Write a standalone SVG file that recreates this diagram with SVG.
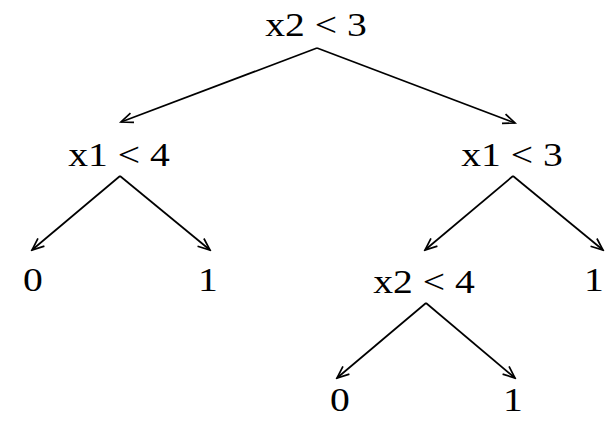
<svg xmlns="http://www.w3.org/2000/svg" width="605" height="424" viewBox="0 0 605 424">
<style>
text { font-family: "Liberation Serif", "Times New Roman", serif; font-size: 33px; fill: #000; text-anchor: middle; }
.edge { stroke: #000; stroke-width: 1.7; fill: none; marker-end: url(#ah); }
</style>
<defs>
<marker id="ah" viewBox="-13 -7 15 14" refX="0" refY="0" markerWidth="15" markerHeight="14" markerUnits="userSpaceOnUse" orient="auto">
<path d="M-12,-5 L0,0 L-12,5" fill="none" stroke="#000" stroke-width="1.7"/>
</marker>
</defs>
<rect width="605" height="424" fill="#fff"/>
<g id="connectors">
<line class="edge" x1="317" y1="48" x2="121" y2="122"/>
<line class="edge" x1="317" y1="48" x2="515" y2="123"/>
<line class="edge" x1="120" y1="176" x2="32" y2="250"/>
<line class="edge" x1="120" y1="176" x2="210" y2="250"/>
<line class="edge" x1="513" y1="176" x2="425" y2="250"/>
<line class="edge" x1="513" y1="176" x2="603" y2="250"/>
<line class="edge" x1="426" y1="303" x2="337" y2="378"/>
<line class="edge" x1="426" y1="303" x2="515" y2="378"/>
</g>
<g id="root"><text transform="translate(316,36) scale(1.2,1)">x2 &lt; 3</text></g>
<g id="n_x1lt4"><text transform="translate(119,166) scale(1.2,1)">x1 &lt; 4</text></g>
<g id="n_x1lt3"><text transform="translate(512,166) scale(1.2,1)">x1 &lt; 3</text></g>
<g id="leaf_a0"><text transform="translate(33,291) scale(1.2,1)">0</text></g>
<g id="leaf_a1"><text transform="translate(208,291) scale(1.2,1)">1</text></g>
<g id="n_x2lt4"><text transform="translate(424,293) scale(1.2,1)">x2 &lt; 4</text></g>
<g id="leaf_b1"><text transform="translate(594,291) scale(1.2,1)">1</text></g>
<g id="leaf_c0"><text transform="translate(340,411) scale(1.2,1)">0</text></g>
<g id="leaf_c1"><text transform="translate(513,411) scale(1.2,1)">1</text></g>
</svg>
